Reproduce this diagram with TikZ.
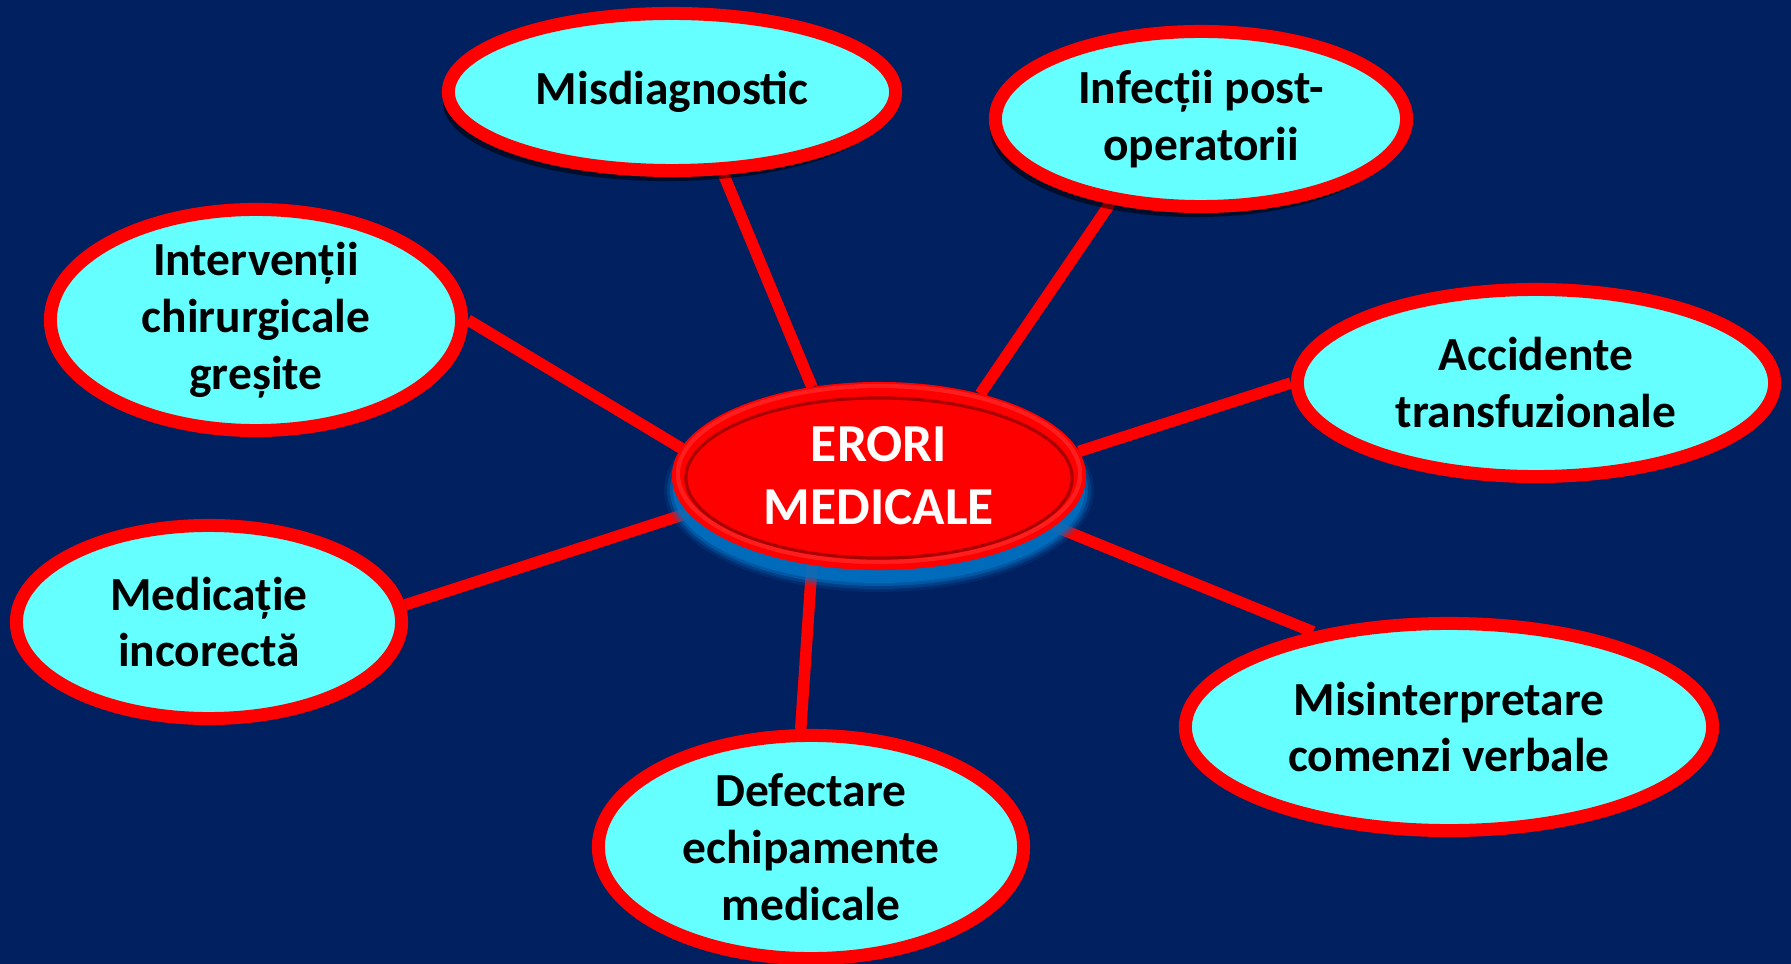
\documentclass[tikz,border=0pt]{standalone}
\usepackage{fontspec}
\setmainfont{Carlito}
\usetikzlibrary{shapes.geometric,shadows}
\definecolor{navy}{RGB}{0,32,96}
\definecolor{cyanfill}{RGB}{102,255,255}
\definecolor{glowblue}{RGB}{0,112,192}
\definecolor{darkred}{RGB}{150,0,0}
\pgfdeclarelayer{bg}
\pgfdeclarelayer{lines}
\pgfsetlayers{bg,lines,main}
\tikzset{
  x=0.01cm, y=-0.01cm,
  leaf/.style={ellipse, draw=red, line width=0.13cm, fill=cyanfill, inner sep=0pt,
    align=center, text=black, font=\fontsize{13.5}{16.2}\selectfont\bfseries},
  leafshadow/.style={drop shadow={shadow xshift=-1.5pt, shadow yshift=-3pt, opacity=0.55, fill=black}},
  conn/.style={red, line width=0.115cm},
  hub/.style={ellipse, draw=red, line width=0.04cm, fill=red, inner sep=0pt,
    align=center, text=white, font=\fontsize{15.2}{18}\selectfont\bfseries},
}
\begin{document}
\begin{tikzpicture}
\begin{pgfonlayer}{bg}
  \fill[navy] (0,0) rectangle (1791,964);
\end{pgfonlayer}
\useasboundingbox (0,0) rectangle (1791,964);

% blue glow under hub
\foreach \o/\g in {0.15/10,0.3/7,0.5/4,0.8/1}{
  \fill[glowblue, opacity=\o] (879,490) ellipse ({(205+\g)*0.01cm} and {(92+\g)*0.01cm});
}
\node[hub, minimum width=4.10cm, minimum height=1.84cm] (hub) at (879,476) {ERORI\\MEDICALE};
\draw[darkred, line width=0.9pt, opacity=0.8] (879,478) ellipse (1.93cm and 0.80cm);
\draw[red!80!white, line width=1.2pt, opacity=0.6] (879,474) ellipse (2.01cm and 0.88cm);

\node[leaf, leafshadow, minimum width=4.47cm, minimum height=1.57cm] (misd) at (672,92) {Misdiagnostic};
\node[leaf, leafshadow, minimum width=4.11cm, minimum height=1.75cm] (infe) at (1201,119) {Infecții post-\\operatorii};
\node[leaf, minimum width=4.11cm, minimum height=2.21cm] (inte) at (256,320) {Intervenții\\chirurgicale\\greșite};
\node[leaf, minimum width=4.77cm, minimum height=1.87cm] (acci) at (1536,383) {Accidente\\transfuzionale};
\node[leaf, minimum width=3.85cm, minimum height=1.93cm] (medi) at (209,622) {Medicație\\incorectă};
\node[leaf, minimum width=4.25cm, minimum height=2.23cm] (defe) at (811,847) {Defectare\\echipamente\\medicale};
\node[leaf, minimum width=5.27cm, minimum height=2.07cm] (misi) at (1449,727) {Misinterpretare\\comenzi verbale};

\begin{pgfonlayer}{lines}
  \draw[conn] (hub.127.7) -- (misd.-58.5);
  \draw[conn] (hub.39) -- (infe.223);
  \draw[conn] (hub.172) -- (inte.0);
  \draw[conn] (hub.7.4) -- (acci.180);
  \draw[conn] (hub.191) -- (medi.5);
  \draw[conn] (hub.233.5) -- (defe.95.4);
  \draw[conn] (hub.-16.5) -- (misi.145.6);
\end{pgfonlayer}
\end{tikzpicture}
\end{document}
